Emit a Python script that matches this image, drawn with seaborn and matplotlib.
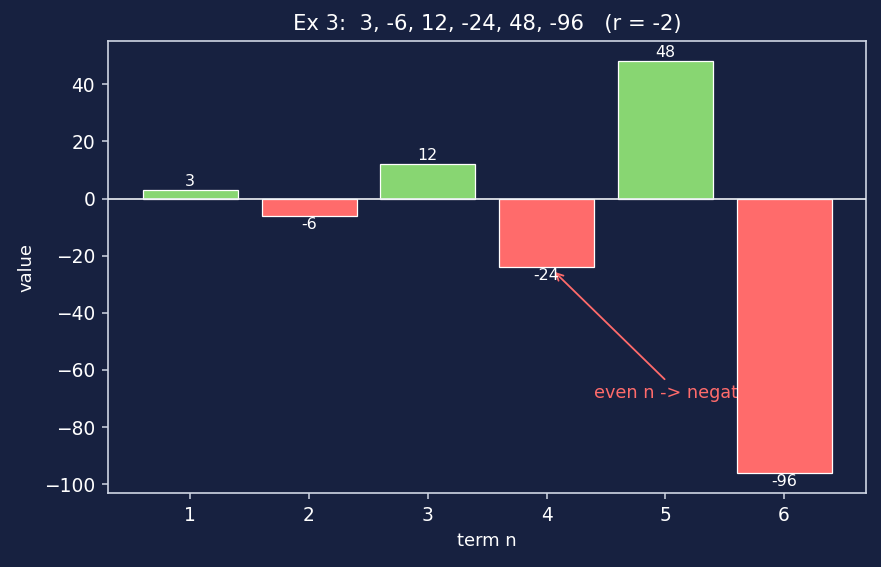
import matplotlib
matplotlib.use('Agg')
import matplotlib.pyplot as plt
import seaborn as sns
import numpy as np
import pandas as pd

# sequence data
terms = [1, 2, 3, 4, 5, 6]
values = [3, -6, 12, -24, 48, -96]
bar_colors = ['#88d672' if v > 0 else '#ff6b6b' for v in values]

BG = '#172140'
FG = '#cfd6e4'

sns.set_style('dark')
plt.rcParams['font.family'] = ['DejaVu Sans']

fig, ax = plt.subplots(figsize=(8.81, 5.67), dpi=100)
fig.patch.set_facecolor(BG)
ax.set_facecolor(BG)

df = pd.DataFrame({'term n': terms, 'value': values})
sns.barplot(data=df, x='term n', y='value', hue='term n', palette=bar_colors,
            legend=False, width=0.8, edgecolor='white', linewidth=0.9,
            saturation=1, ax=ax, zorder=2)

ax.axhline(0, color='#eef1f6', linewidth=1.2, zorder=3)

for cont in ax.containers:
    ax.bar_label(cont, fmt='%d', color='white', fontsize=11.4, padding=1)

ax.annotate('even n -> negative', xy=(3.05, -25), xytext=(3.4, -70),
            color='#ff6b6b', fontsize=12.7, zorder=1,
            arrowprops=dict(arrowstyle='->', color='#ff6b6b', lw=1.3))

ax.set_xlim(-0.69, 5.69)
ax.set_ylim(-103.2, 55.2)

ax.set_title('Ex 3:  3, -6, 12, -24, 48, -96   (r = -2)', color='white',
             fontsize=15.2, pad=8)
ax.set_xlabel('term n', color='white', fontsize=12.9, labelpad=5)
ax.set_ylabel('value', color='white', fontsize=12.9, labelpad=6)
ax.tick_params(colors=FG, labelcolor='white', labelsize=13.4, length=4.5,
               width=1.1, pad=5, bottom=True, left=True)
for s in ax.spines.values():
    s.set_visible(True)
    s.set_color(FG)
    s.set_linewidth(1.2)
ax.grid(False)

fig.subplots_adjust(left=0.123, right=0.983, top=0.928, bottom=0.13)
plt.savefig('out.png', facecolor=BG)
